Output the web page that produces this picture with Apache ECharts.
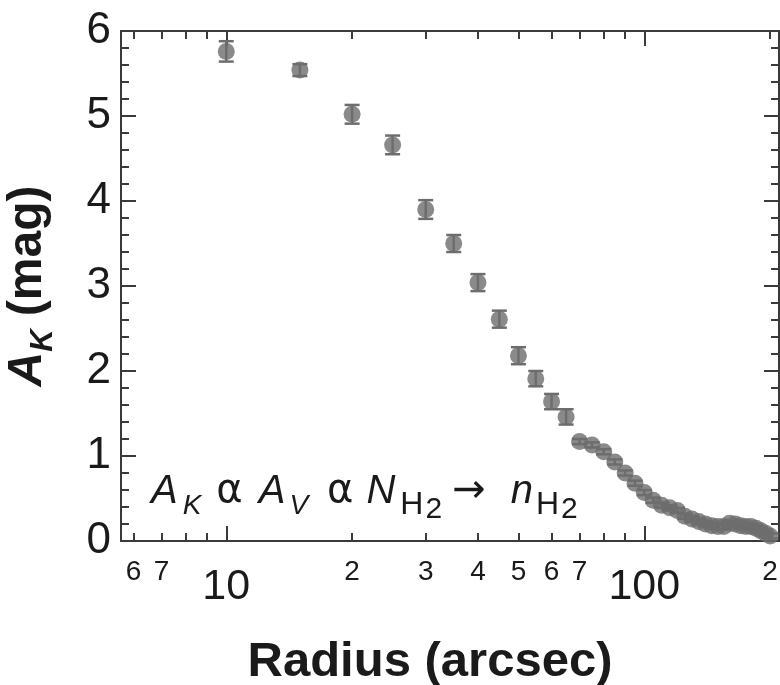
<!DOCTYPE html>
<html>
<head>
<meta charset="utf-8">
<script src="https://cdn.jsdelivr.net/npm/echarts@6/dist/echarts.min.js"></script>
<style>
  html, body { margin: 0; padding: 0; background: #ffffff; }
  #chart { width: 780px; height: 685px; }
</style>
</head>
<body>
<div id="chart"></div>
<script>
// Radial extinction profile: A_K versus radius (arcsec), log radius axis
const radius = [10, 15, 20, 25, 30, 35, 40, 45, 50, 55, 60, 65,
  70, 75, 80, 85, 90, 95, 100, 105, 110, 115, 120, 125, 130, 135,
  140, 145, 150, 155, 160, 165, 170, 175, 180, 185, 190, 195, 200];
const extinction = [5.76, 5.54, 5.02, 4.66, 3.90, 3.50, 3.04, 2.61, 2.18, 1.91, 1.64, 1.46,
  1.17, 1.13, 1.05, 0.93, 0.80, 0.68, 0.57, 0.48, 0.42, 0.39, 0.36, 0.29, 0.26, 0.23,
  0.20, 0.18, 0.17, 0.17, 0.21, 0.20, 0.18, 0.17, 0.17, 0.15, 0.12, 0.09, 0.06];
const extinctionErr = [0.12, 0.07, 0.11, 0.11, 0.11, 0.10, 0.10, 0.10, 0.10, 0.09, 0.09, 0.09,
  0.03, 0.03, 0.03, 0.03, 0.03, 0.03, 0.03, 0.03, 0.03, 0.03, 0.03, 0.03, 0.03, 0.03,
  0.03, 0.03, 0.03, 0.03, 0.03, 0.03, 0.03, 0.03, 0.03, 0.03, 0.03, 0.03, 0.03];

// Tick positions on the radius axis
const xShortTicks = [6, 7, 8, 9, 20, 30, 40, 50, 60, 70, 80, 90, 200];
const xLongTicks = [10, 100];
const xTickLabels = [6, 7, 10, 20, 30, 40, 50, 60, 70, 100, 200];
const yTicks = [0, 1, 2, 3, 4, 5, 6];

const FONT = 'Liberation Sans, Arial, sans-serif';
const SYM = 'DejaVu Sans, sans-serif';
const INK = '#1a1a1a';
const FRAME = '#3a3a3a';
const MARK = '#6d6d6d';

const frameLine = { show: true, lineStyle: { color: FRAME, width: 2 } };

function radiusAxis(position, tickValues, tickLen, withLabels) {
  return {
    type: 'log',
    logBase: 10,
    min: 5.6,
    max: 210,
    position: position,
    gridIndex: 0,
    axisLine: frameLine,
    splitLine: { show: false },
    minorTick: { show: false },
    axisTick: {
      show: true, inside: true, length: tickLen,
      customValues: tickValues,
      lineStyle: { color: FRAME, width: 2 }
    },
    axisLabel: withLabels ? {
      show: true,
      customValues: xTickLabels,
      margin: 17,
      color: INK,
      fontFamily: FONT,
      formatter: function (val) {
        const v = Math.round(val);
        if (v === 10 || v === 100) return '{big|' + v + '}';
        const p = Math.pow(10, Math.floor(Math.log10(v) + 1e-9));
        return '{sm|' + Math.round(v / p) + '}';
      },
      rich: {
        sm: { fontSize: 28, fontFamily: FONT, color: INK },
        big: { fontSize: 43, fontFamily: FONT, color: INK, padding: [8, 0, 0, 0] }
      }
    } : { show: false }
  };
}

function extinctionAxis(position, withLabels) {
  return {
    type: 'value',
    min: 0,
    max: 6,
    interval: 1,
    position: position,
    gridIndex: 0,
    axisLine: frameLine,
    splitLine: { show: false },
    axisTick: { show: true, inside: true, length: 15, lineStyle: { color: FRAME, width: 2 } },
    minorTick: { show: true, splitNumber: 5, length: 8, lineStyle: { color: FRAME, width: 2 } },
    axisLabel: withLabels ? {
      show: true, margin: 10, fontSize: 44, color: INK, fontFamily: FONT,
      customValues: yTicks
    } : { show: false }
  };
}

const xBottom = radiusAxis('bottom', xShortTicks, 8, true);
xBottom.name = 'Radius (arcsec)';
xBottom.nameLocation = 'middle';
xBottom.nameGap = 97;
xBottom.nameTextStyle = {
  fontSize: 49, fontWeight: 'bold', color: INK, fontFamily: FONT,
  padding: [0, 40, 0, 0]
};

const yLeft = extinctionAxis('left', true);
yLeft.name = '{a|A}{k|K}{m| (mag)}';
yLeft.nameLocation = 'middle';
yLeft.nameRotate = 90;
yLeft.nameGap = 62;
yLeft.nameTextStyle = {
  color: INK,
  rich: {
    a: { fontSize: 48, fontWeight: 'bold', fontStyle: 'italic', fontFamily: FONT, color: INK, verticalAlign: 'top' },
    k: { fontSize: 31, fontWeight: 'bold', fontStyle: 'italic', fontFamily: FONT, color: INK, verticalAlign: 'top', padding: [24, 0, 0, 0] },
    m: { fontSize: 48, fontWeight: 'bold', fontFamily: FONT, color: INK, verticalAlign: 'top' }
  }
};

const points = radius.map(function (r, i) { return [r, extinction[i], extinctionErr[i]]; });

// Relation drawn inside the plot: A_K ∝ A_V ∝ N(H2) → n(H2)
const relationText =
  '{i|A}{k|K}{a1|α}{i2|A}{v|V}{a2|α}{i3|N}{h1|H}{t1|2}{ar|→}{n|n}{h2|H}{t2|2}';
const it = { fontSize: 40, fontStyle: 'italic', fontFamily: FONT, fill: INK, verticalAlign: 'top' };
function tok(base, extra) { return Object.assign({}, base, extra); }
const subIt = { fontSize: 28, fontStyle: 'italic', fontFamily: FONT, fill: INK, verticalAlign: 'top' };
const subH = { fontSize: 32, fontFamily: FONT, fill: INK, verticalAlign: 'top' };
const subTwo = { fontSize: 30, fontFamily: FONT, fill: INK, verticalAlign: 'top' };
const sym = { fontSize: 40, fontFamily: SYM, fill: INK, verticalAlign: 'top' };
const relationRich = {
  i: it,
  k: tok(subIt, { padding: [20, 0, 0, 5] }),
  a1: tok(sym, { padding: [0, 0, 0, 15] }),
  i2: tok(it, { padding: [0, 0, 0, 16] }),
  v: tok(subIt, { padding: [20, 0, 0, 4] }),
  a2: tok(sym, { padding: [0, 0, 0, 19] }),
  i3: tok(it, { padding: [0, 0, 0, 13] }),
  h1: tok(subH, { padding: [17, 0, 0, 5] }),
  t1: tok(subTwo, { padding: [23, 0, 0, 2] }),
  ar: { fontSize: 40, fontFamily: SYM, fill: INK, verticalAlign: 'top', padding: [0, 0, 0, 10] },
  n: tok(it, { padding: [0, 0, 0, 25] }),
  h2: tok(subH, { padding: [17, 0, 0, 3] }),
  t2: tok(subTwo, { padding: [23, 0, 0, 2] })
};

const chart = echarts.init(document.getElementById('chart'), null, { renderer: 'canvas' });

chart.setOption({
  backgroundColor: '#ffffff',
  animation: false,
  grid: {
    left: 121, right: 1, top: 31, bottom: 144,
    containLabel: false, outerBoundsMode: 'none'
  },
  xAxis: [
    xBottom,
    radiusAxis('bottom', xLongTicks, 15, false),
    radiusAxis('top', xShortTicks, 8, false),
    radiusAxis('top', xLongTicks, 15, false)
  ],
  yAxis: [
    yLeft,
    extinctionAxis('right', false)
  ],
  series: [
    {
      type: 'custom',
      xAxisIndex: 0,
      yAxisIndex: 0,
      z: 2,
      renderItem: function (params, api) {
        const x = api.value(0), y = api.value(1), e = api.value(2);
        const hi = api.coord([x, y + e]);
        const lo = api.coord([x, y - e]);
        const hw = 7.5;
        const st = { stroke: MARK, lineWidth: 2.5 };
        return {
          type: 'group',
          children: [
            { type: 'line', shape: { x1: hi[0], y1: hi[1], x2: lo[0], y2: lo[1] }, style: st },
            { type: 'line', shape: { x1: hi[0] - hw, y1: hi[1], x2: hi[0] + hw, y2: hi[1] }, style: st },
            { type: 'line', shape: { x1: lo[0] - hw, y1: lo[1], x2: lo[0] + hw, y2: lo[1] }, style: st }
          ]
        };
      },
      encode: { x: 0, y: 1 },
      data: points
    },
    {
      type: 'scatter',
      xAxisIndex: 0,
      yAxisIndex: 0,
      z: 3,
      clip: false,
      symbol: 'circle',
      symbolSize: 17,
      itemStyle: { color: MARK },
      data: points.map(function (p) { return [p[0], p[1]]; })
    }
  ],
  graphic: [
    {
      type: 'text',
      left: 151,
      top: 472,
      z: 10,
      style: { text: relationText, fill: INK, rich: relationRich }
    }
  ]
});
</script>
</body>
</html>
